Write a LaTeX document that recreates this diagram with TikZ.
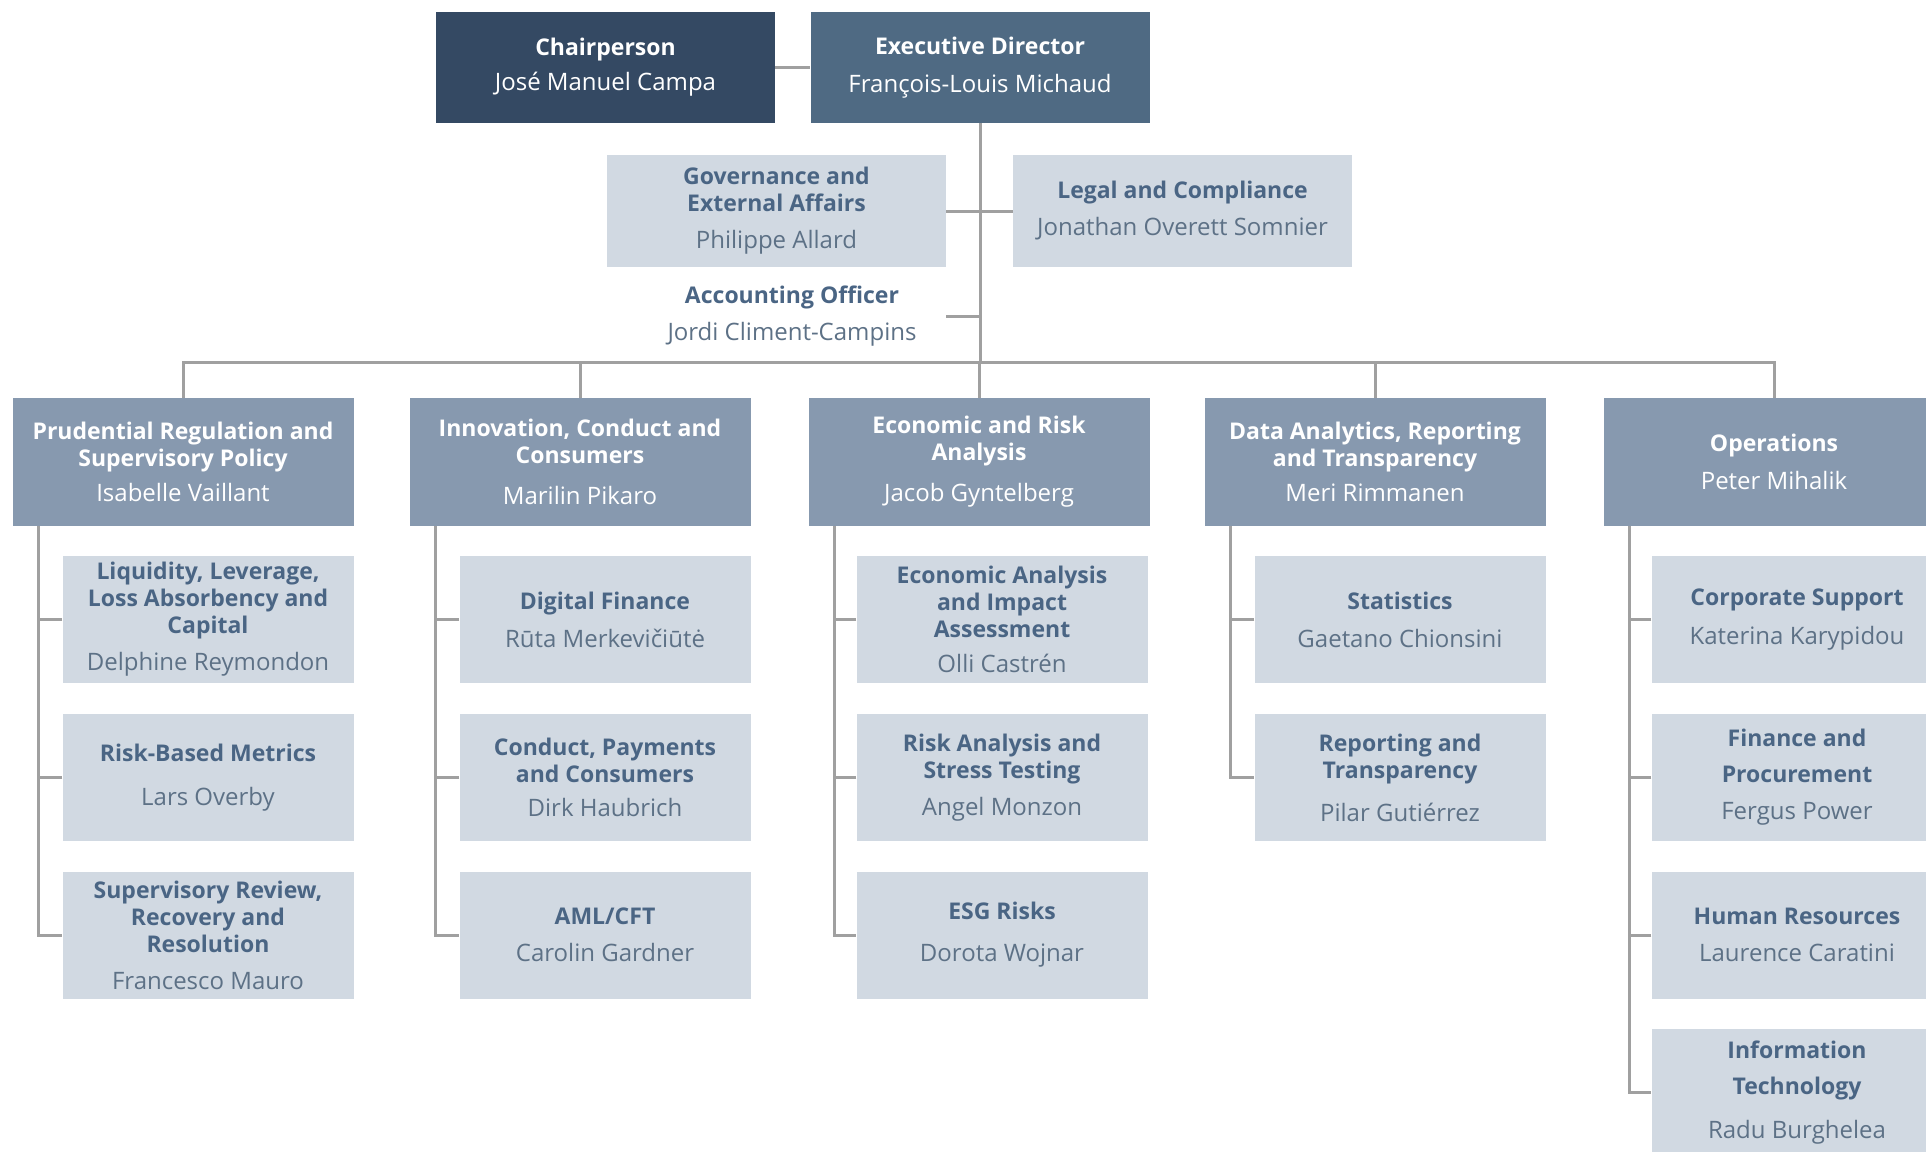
\documentclass[tikz,border=0pt]{standalone}
\usepackage{fontspec}
\setmainfont{Open Sans}
\definecolor{chairc}{HTML}{344963}
\definecolor{execc}{HTML}{4F6A83}
\definecolor{deptc}{HTML}{8799AF}
\definecolor{subc}{HTML}{D1D9E2}
\definecolor{titlec}{HTML}{4A6584}
\definecolor{namec}{HTML}{5D7186}
\definecolor{linec}{HTML}{A0A0A0}
\newcommand{\nmL}[1]{\mdseries\color{namec}\fontsize{24}{27}\selectfont #1}
\newcommand{\nmD}[1]{\mdseries\fontsize{24}{27}\selectfont #1}
\begin{document}
\begin{tikzpicture}[x=1pt,y=-1pt,
  base/.style={rectangle, inner sep=0pt, align=center, font=\bfseries\fontsize{23}{27}\selectfont},
  topbox/.style={base, minimum width=339pt, minimum height=111pt, text=white},
  chairbox/.style={topbox, fill=chairc},
  execbox/.style={topbox, fill=execc},
  staffbox/.style={base, minimum width=339pt, minimum height=112pt, fill=subc, text=titlec},
  plainbox/.style={base, text=titlec},
  deptbox/.style={base, minimum width=341pt, minimum height=128pt, fill=deptc, text=white},
  subbox/.style={base, minimum width=291pt, minimum height=127pt, fill=subc, text=titlec},
  link/.style={draw=linec, line width=3pt}
]
\useasboundingbox (0,0) rectangle (1926,1151);
\clip (0,0) rectangle (1926,1151);

% top level
\node[chairbox] (chair) at (605.5,67.5) {Chairperson\\[8pt]\nmD{José Manuel Campa}};
\node[execbox] (exec) at (980,67.5) {Executive Director\\[11pt]\nmD{François-Louis Michaud}};
\node[staffbox] (gov) at (776.5,211) {Governance and\\External Affairs\\[10pt]\nmL{Philippe Allard}};
\node[staffbox] (legal) at (1182.5,211) {Legal and Compliance\\[10pt]\nmL{Jonathan Overett Somnier}};
\node[plainbox] (acc) at (792,316) {Accounting Officer\\[10pt]\nmL{Jordi Climent-Campins}};

% departments
\node[deptbox] (d1) at (183,462) {Prudential Regulation and\\Supervisory Policy\\[8pt]\nmD{Isabelle Vaillant}};
\node[deptbox] (d2) at (580,462) {Innovation, Conduct and\\Consumers\\[14pt]\nmD{Marilin Pikaro}};
\node[deptbox] (d3) at (979,462) {Economic and Risk\\Analysis\\[14pt]\nmD{Jacob Gyntelberg}};
\node[deptbox] (d4) at (1375,462) {Data Analytics, Reporting\\and Transparency\\[8pt]\nmD{Meri Rimmanen}};
\node[deptbox] (d5) at (1774,462) {Operations\\[11pt]\nmD{Peter Mihalik}};

% units: Prudential
\node[subbox] (a1) at (208,619.5) {Liquidity, Leverage,\\Loss Absorbency and\\Capital\\[10pt]\nmL{Delphine Reymondon}};
\node[subbox] (a2) at (208,777.5) {Risk-Based Metrics\\[17pt]\nmL{Lars Overby}};
\node[subbox] (a3) at (208,935) {Supervisory Review,\\Recovery and\\Resolution\\[10pt]\nmL{Francesco Mauro}};
% Innovation
\node[subbox] (b1) at (605,619.5) {Digital Finance\\[11pt]\nmL{Rūta Merkevičiūtė}};
\node[subbox] (b2) at (605,777.5) {Conduct, Payments\\and Consumers\\[7pt]\nmL{Dirk Haubrich}};
\node[subbox] (b3) at (605,935) {AML/CFT\\[10pt]\nmL{Carolin Gardner}};
% Economic
\node[subbox] (c1) at (1002,619.5) {Economic Analysis\\and Impact\\Assessment\\[8pt]\nmL{Olli Castrén}};
\node[subbox] (c2) at (1002,777.5) {Risk Analysis and\\Stress Testing\\[10pt]\nmL{Angel Monzon}};
\node[subbox] (c3) at (1002,935) {ESG Risks\\[15pt]\nmL{Dorota Wojnar}};
% Data
\node[subbox] (e1) at (1400,619.5) {Statistics\\[11pt]\nmL{Gaetano Chionsini}};
\node[subbox] (e2) at (1400,777.5) {Reporting and\\Transparency\\[16pt]\nmL{Pilar Gutiérrez}};
% Operations
\node[subbox] (f1) at (1797,619.5) {Corporate Support\\[12pt]\nmL{Katerina Karypidou}};
\node[subbox] (f2) at (1797,777.5) {Finance and\\[9pt]Procurement\\[10pt]\nmL{Fergus Power}};
\node[subbox] (f3) at (1797,935) {Human Resources\\[10pt]\nmL{Laurence Caratini}};
\node[subbox] (f4) at (1797,1092.5) {Information\\[9pt]Technology\\[17pt]\nmL{Radu Burghelea}};

% connectors, top
\coordinate (bus) at (980,362);
\draw[link] (chair.east) -- (exec.west);
\draw[link] (exec.south) -- (bus);
\draw[link] (gov.east) -- (gov.east -| exec.south);
\draw[link] (legal.west) -- (legal.west -| exec.south);
\draw[link] (gov.east |- acc.east) -- (acc.east -| exec.south);
\draw[link] (d1.north) |- (bus) -| (d5.north);
\draw[link] (d2.north) -- (d2.north |- bus);
\draw[link] (d3.north) -- (d3.north |- bus);
\draw[link] (d4.north) -- (d4.north |- bus);

% spines
\coordinate (sp1) at ([xshift=26pt]d1.south west);
\coordinate (sp2) at ([xshift=26pt]d2.south west);
\coordinate (sp3) at ([xshift=26pt]d3.south west);
\coordinate (sp4) at ([xshift=26pt]d4.south west);
\coordinate (sp5) at ([xshift=26pt]d5.south west);
\draw[link] (sp1) |- (a3.west);
\draw[link] (a1.west) -- (a1.west -| sp1);
\draw[link] (a2.west) -- (a2.west -| sp1);
\draw[link] (sp2) |- (b3.west);
\draw[link] (b1.west) -- (b1.west -| sp2);
\draw[link] (b2.west) -- (b2.west -| sp2);
\draw[link] (sp3) |- (c3.west);
\draw[link] (c1.west) -- (c1.west -| sp3);
\draw[link] (c2.west) -- (c2.west -| sp3);
\draw[link] (sp4) |- (e2.west);
\draw[link] (e1.west) -- (e1.west -| sp4);
\draw[link] (sp5) |- (f4.west);
\draw[link] (f1.west) -- (f1.west -| sp5);
\draw[link] (f2.west) -- (f2.west -| sp5);
\draw[link] (f3.west) -- (f3.west -| sp5);
\end{tikzpicture}
\end{document}
